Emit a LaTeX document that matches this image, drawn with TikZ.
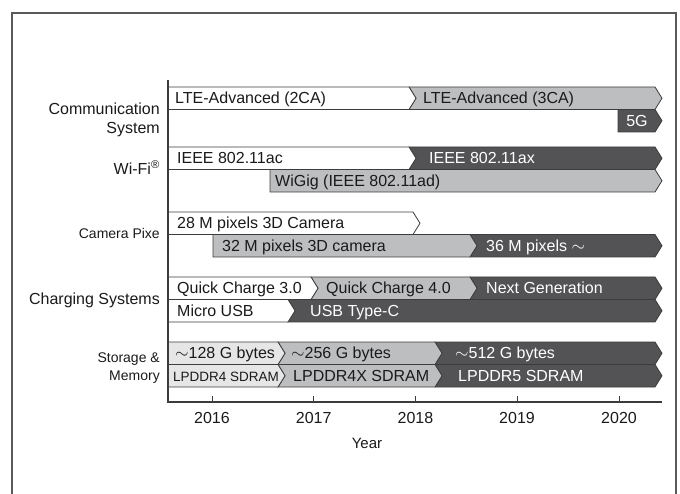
\documentclass[tikz,border=0pt]{standalone}
\usepackage{fontspec}
\setmainfont{Liberation Sans}
\definecolor{lightg}{HTML}{E6E6E7}
\definecolor{midg}{HTML}{BDBEC0}
\definecolor{darkg}{HTML}{535355}
\definecolor{edgeg}{HTML}{3C3C3C}
\definecolor{txt}{HTML}{1A1A1A}
\newcommand\chev[5]{% fill, x1, x2, top, notch
  \draw[segline,fill=#1] (#2,#4) -- (#2+#5,#4+11.25) -- (#2,#4+22.5) -- (#3,#4+22.5) -- (#3+7,#4+11.25) -- (#3,#4) -- cycle;}
\tikzset{
  segline/.style={draw=edgeg,line width=0.8pt,line join=miter},
  btxt/.style={anchor=base west,inner sep=0pt,text=txt,font=\fontsize{16}{18}\selectfont},
  wtxt/.style={btxt,text=white},
  lbl/.style={anchor=base east,inner sep=0pt,text=txt,font=\fontsize{16}{18}\selectfont},
  slbl/.style={lbl,font=\fontsize{14}{16}\selectfont},
  yr/.style={anchor=base,inner sep=0pt,text=txt,font=\fontsize{16}{18}\selectfont},
  axisline/.style={draw=edgeg,line width=1.2pt},
}
\begin{document}
\begin{tikzpicture}[x=1pt,y=-1pt]
\useasboundingbox (0,0) rectangle (680,494);
% frame
\draw[draw=black!65,line width=1.4pt] (12,494) -- (12,13) -- (676,13) -- (676,494);
% communication
\chev{midg}{409}{655}{87}{7}
\chev{white}{168}{409}{87}{0}
\chev{darkg}{618}{655}{109.5}{0}
% wifi
\chev{darkg}{409}{655}{147}{7}
\chev{white}{168}{409}{147}{0}
\chev{midg}{270}{655}{169.5}{0}
% camera
\chev{white}{168}{413}{212}{0}
\chev{darkg}{470}{655}{234.5}{7}
\chev{midg}{213}{470}{234.5}{0}
% charging
\chev{darkg}{470}{655}{277}{7}
\chev{midg}{311}{470}{277}{7}
\chev{white}{168}{311}{277}{0}
\chev{darkg}{288}{655}{299.5}{7}
\chev{white}{168}{288}{299.5}{0}
% storage
\chev{darkg}{435}{655}{342}{7}
\chev{midg}{278}{435}{342}{7}
\chev{lightg}{168}{278}{342}{0}
\chev{darkg}{435}{655}{364.5}{7}
\chev{midg}{278}{435}{364.5}{7}
\chev{lightg}{168}{278}{364.5}{0}
% axes
\draw[axisline] (168,80) -- (168,402) -- (662,402);
\foreach \x/\n in {212/2016,313.7/2017,415.4/2018,517/2019,619/2020}{
  \draw[draw=edgeg,line width=0.9pt] (\x,402) -- (\x,396);
  \node[yr] (y\n) at (\x,423) {\n};
}
\node[yr,font=\fontsize{15}{17}\selectfont] (year) at (367,448.5) {Year};
% row labels
\node[lbl] (l1a) at (160,115) {Communication};
\node[lbl] (l1b) at (160,134) {System};
\node[lbl] (l2) at (160,174.5) {Wi-Fi\textsuperscript{®}};
\node[slbl] (l3) at (160,239) {Camera Pixe};
\node[lbl] (l4) at (160,304.5) {Charging Systems};
\node[slbl] (l5a) at (160,362) {Storage \&};
\node[slbl] (l5b) at (160,380.5) {Memory};
% bar texts
\node[btxt] (c1) at (175,104) {LTE-Advanced (2CA)};
\node[btxt] (c2) at (423,104) {LTE-Advanced (3CA)};
\node[wtxt,anchor=base] (c3) at (637,126.5) {5G};
\node[btxt] (w1) at (177,164) {IEEE 802.11ac};
\node[wtxt] (w2) at (429,164) {IEEE 802.11ax};
\node[btxt] (w3) at (275,186.5) {WiGig (IEEE 802.11ad)};
\node[btxt] (k1) at (177,229) {28 M pixels 3D Camera};
\node[btxt] (k2) at (222,251.5) {32 M pixels 3D camera};
\node[wtxt] (k3) at (486,251.5) {36 M pixels $\sim$};
\node[btxt] (q1) at (177,294) {Quick Charge 3.0};
\node[btxt] (q2) at (326,294) {Quick Charge 4.0};
\node[wtxt] (q3) at (486,294) {Next Generation};
\node[btxt] (u1) at (177,316.5) {Micro USB};
\node[wtxt] (u2) at (310,316.5) {USB Type-C};
\node[btxt] (s1) at (175,359) {$\sim$128 G bytes};
\node[btxt] (s2) at (291,359) {$\sim$256 G bytes};
\node[wtxt] (s3) at (455,359) {$\sim$512 G bytes};
\node[btxt,font=\fontsize{13.5}{15}\selectfont] (m1) at (173,381) {LPDDR4 SDRAM};
\node[btxt] (m2) at (293,381.5) {LPDDR4X SDRAM};
\node[wtxt] (m3) at (458,381.5) {LPDDR5 SDRAM};
\end{tikzpicture}
\end{document}
